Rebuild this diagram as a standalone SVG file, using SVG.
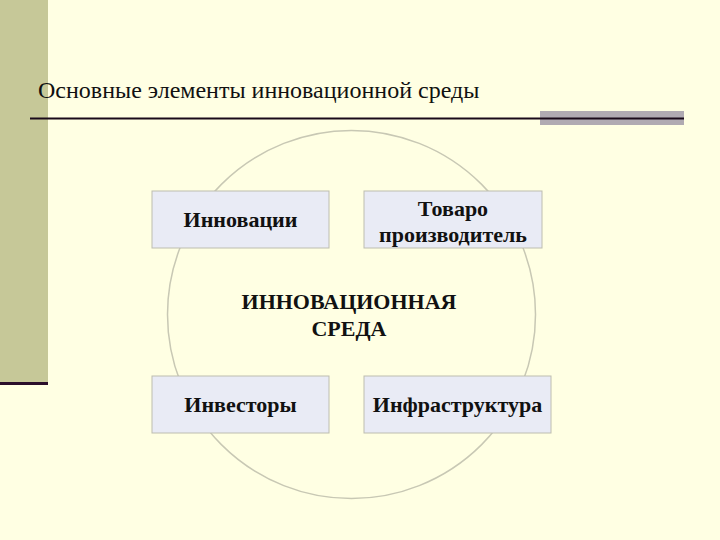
<svg xmlns="http://www.w3.org/2000/svg" width="720" height="540" viewBox="0 0 720 540">
<style>
.box{fill:#E9EBF5;stroke:#BDBDB0;stroke-width:1}
.lbl{font-family:"Liberation Serif","Times New Roman",serif;font-weight:bold;font-size:22px;fill:#111;text-anchor:middle}
</style>
<rect x="0" y="0" width="720" height="540" fill="#FFFFE3"/>
<rect x="0" y="0" width="48" height="382" fill="#C6C898"/>
<rect x="0" y="382" width="48" height="3" fill="#2A0E2A"/>
<rect x="540" y="111" width="144" height="14" fill="#B0AAB2"/>
<line x1="30" y1="118.5" x2="684" y2="118.5" stroke="#1A0A1A" stroke-width="2"/>
<text x="38" y="98" font-family="'Liberation Serif','Times New Roman',serif" font-size="24" fill="#111">Основные элементы инновационной среды</text>
<g id="connectors">
<circle cx="351.5" cy="314.5" r="184" fill="none" stroke="#C8C8B4" stroke-width="1.5"/>
</g>
<g id="center">
<text class="lbl" x="349" y="309">ИННОВАЦИОННАЯ</text>
<text class="lbl" x="349" y="336">СРЕДА</text>
</g>
<g id="innovations">
<rect class="box" x="152" y="191" width="177" height="57"/>
<text class="lbl" x="240.5" y="227">Инновации</text>
</g>
<g id="producer">
<rect class="box" x="364" y="191" width="178" height="57"/>
<text class="lbl" x="453" y="216">Товаро</text>
<text class="lbl" x="453" y="242">производитель</text>
</g>
<g id="investors">
<rect class="box" x="152" y="376" width="177" height="57"/>
<text class="lbl" x="240.5" y="412">Инвесторы</text>
</g>
<g id="infrastructure">
<rect class="box" x="364" y="376" width="187" height="57"/>
<text class="lbl" x="457.5" y="412">Инфраструктура</text>
</g>
</svg>
